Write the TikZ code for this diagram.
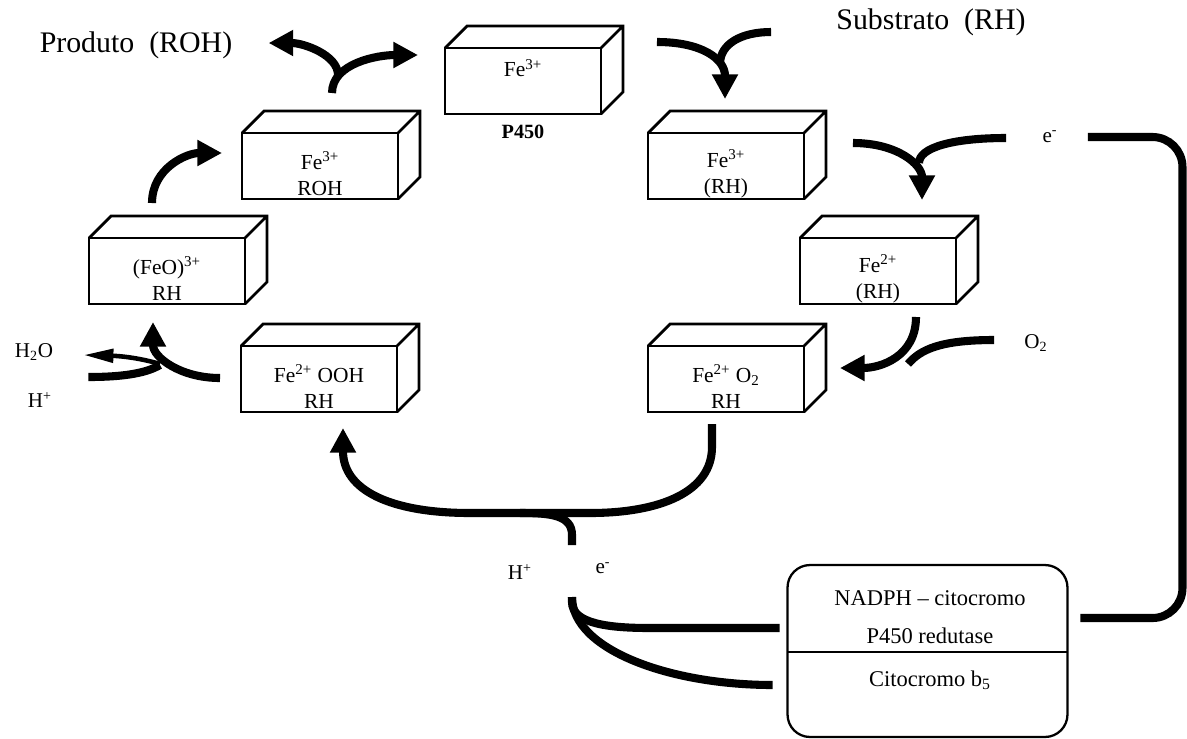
\documentclass[tikz,border=0pt]{standalone}
\usepackage{fontspec}
\setmainfont{Liberation Serif}
\usetikzlibrary{arrows.meta, positioning, calc}
\tikzset{
  caixa/.style={rectangle, draw, line width=1.6pt, minimum width=3.12cm, minimum height=1.32cm,
                outer sep=0pt, inner sep=0pt},
  conteudo/.style={font=\fontsize{12.2}{15}\selectfont, align=center, inner sep=0pt},
  titulo/.style={font=\fontsize{17}{20}\selectfont, inner sep=0pt},
  pequeno/.style={font=\fontsize{12}{14}\selectfont, inner sep=0pt},
  enzima/.style={rectangle, draw, line width=1.3pt, rounded corners=0.45cm, minimum width=5.6cm,
                 minimum height=3.44cm, outer sep=0pt},
  flecha/.style={line width=4.6pt, -{Triangle[length=14pt,width=14pt]}},
  linha/.style={line width=4.6pt},
  fina/.style={line width=2.6pt, -{Triangle[length=17pt,width=7.5pt]}}
}
\begin{document}
\begin{tikzpicture}[x=0.02cm, y=-0.02cm]
  \useasboundingbox (0,0) rectangle (1187,738);

  % caixas do ciclo
  \node (p450) [caixa] at (523,81) {};
  \node (roh) [caixa] at (320,166) {};
  \node (rh3) [caixa] at (726,166) {};
  \node (feo) [caixa] at (167,271) {};
  \node (fe2) [caixa] at (878,271) {};
  \node (ooh) [caixa] at (319,379) {};
  \node (o2) [caixa] at (726,379) {};
  \foreach \c in {p450,roh,rh3,feo,fe2,ooh,o2}
    \draw [line width=1.6pt] (\c.north west) -- ++(22,-22) -- ($(\c.north east)+(22,-22)$)
      -- ($(\c.south east)+(22,-22)$) -- (\c.south east) (\c.north east) -- ++(22,-22);

  \node (p450-t) [conteudo] at ($(p450)+(0,-13)$) {Fe\textsuperscript{3+}};
  \node (roh-t) [conteudo] at ($(roh)+(0,8)$) {Fe\textsuperscript{3+}\\ROH};
  \node (rh3-t) [conteudo] at ($(rh3)+(0,8)$) {Fe\textsuperscript{3+}\\(RH)};
  \node (feo-t) [conteudo] at ($(feo)+(0,8)$) {(FeO)\textsuperscript{3+}\\RH};
  \node (fe2-t) [conteudo] at ($(fe2)+(0,8)$) {Fe\textsuperscript{2+}\\(RH)};
  \node (ooh-t) [conteudo] at ($(ooh)+(0,8)$) {Fe\textsuperscript{2+} OOH\\RH};
  \node (o2-t) [conteudo] at ($(o2)+(0,8)$) {Fe\textsuperscript{2+} O\textsubscript{2}\\RH};
  \node (rotulo) [below=6pt of p450, font=\fontsize{11.5}{13}\selectfont\bfseries, inner sep=0pt] {P450};

  % rotulos soltos
  \node (produto) [titulo] at (136,45) {Produto\ \ (ROH)};
  \node (substrato) [titulo] at (931,22) {Substrato\ \ (RH)};
  \node (e1) [pequeno] at (1050,137) {e\textsuperscript{-}};
  \node (oxig) [pequeno] at (1036,343) {O\textsubscript{2}};
  \node (agua) [pequeno] at (34,352) {H\textsubscript{2}O};
  \node (h1) [pequeno] at (40,400) {H\textsuperscript{+}};
  \node (h2) [pequeno] at (520,572) {H\textsuperscript{+}};
  \node (e2) [pequeno] at (603,568) {e\textsuperscript{-}};

  % redutase
  \node (enz) [enzima] at (927.5,651) {};
  \draw [line width=1.3pt] ($(enz.west)+(0,1)$) -- ($(enz.east)+(0,1)$);
  \node (redutase) [font=\fontsize{12.8}{22}\selectfont, align=center, inner sep=0pt] at (930,617)
    {NADPH – citocromo\\P450 redutase};
  \node (citob5) [font=\fontsize{12.8}{15}\selectfont, inner sep=0pt] at (930,680) {Citocromo b\textsubscript{5}};

  % juncoes
  \coordinate (j1) at (338,75);
  \coordinate (j2) at (720,64);
  \coordinate (j3) at (919,163);
  \coordinate (j4) at (908,364);
  \coordinate (j5) at (160,365);
  \coordinate (hee) at (572,545);
  \coordinate (hee2) at (572,597);

  % setas
  \draw [flecha] ($(roh.north)+(12,-40)$) .. controls +(0,-30) and +(-40,0) .. ($(p450.west)+(-27,-26)$);
  \draw [flecha] (j1) .. controls +(0,-20) and +(35,0) .. ($(produto.east)+(36,-2)$);
  \draw [flecha] ($(feo.north)+(-15,-35)$) .. controls +(0,-35) and +(-35,0) .. ($(roh.west)+(-20,-13)$);
  \draw [flecha] ($(p450.east)+(56,-39)$) .. controls +(45,0) and +(0,-40) .. ($(rh3.north)+(-1,-34)$);
  \draw [linha] ($(substrato.west)+(-65,10)$) .. controls +(-30,0) and +(0,-20) .. (j2);
  \draw [flecha] ($(rh3.east)+(49,-23)$) .. controls +(45,0) and +(0,-35) .. ($(fe2.north)+(44,-38)$);
  \draw [linha] ($(e1.west)+(-36,1)$) .. controls +(-55,0) and +(0,-15) .. (j3);
  \draw [linha, rounded corners=0.6cm] ($(e1.east)+(30,0)$) -| ($(enz.east)+(115,-33)$) -- ($(enz.east)+(13,-33)$);
  \draw [flecha] ($(fe2.south)+(38,13)$) .. controls +(0,40) and +(40,0) .. ($(o2.east)+(36,-11)$);
  \draw [linha] ($(oxig.west)+(-30,-3)$) .. controls +(-55,0) and +(12,-14) .. (j4);
  \draw [flecha] ($(o2.south)+(-14,12)$) -- ++(0,23) .. controls +(0,45) and +(70,0) .. (590,513)
    -- (470,513) .. controls +(-80,0) and +(0,62) .. ($(ooh.south)+(24,16)$);
  \draw [linha] (hee) -- ++(0,-10) .. controls +(0,-20) and +(30,0) .. (520,513);
  \draw [linha] (hee2) -- ++(0,5) .. controls +(0,22) and +(-40,0) .. (650,628) -- ($(enz.west)+(-8,-23)$);
  \draw [linha] (hee2) .. controls +(0,53) and +(-102,0) .. ($(enz.west)+(-15,34)$);
  \draw [flecha] ($(ooh.west)+(-21,-1)$) .. controls +(-40,0) and +(0,35) .. ($(feo.south)+(-14,18)$);
  \draw [linha] ($(h1.east)+(36,-23)$) .. controls +(40,0) and +(-12,7) .. (j5);
  \draw [fina] ($(j5)+(0,-1)$) .. controls +(-20,-6) and +(37,1) .. ($(agua.east)+(30,3)$);
\end{tikzpicture}
\end{document}
